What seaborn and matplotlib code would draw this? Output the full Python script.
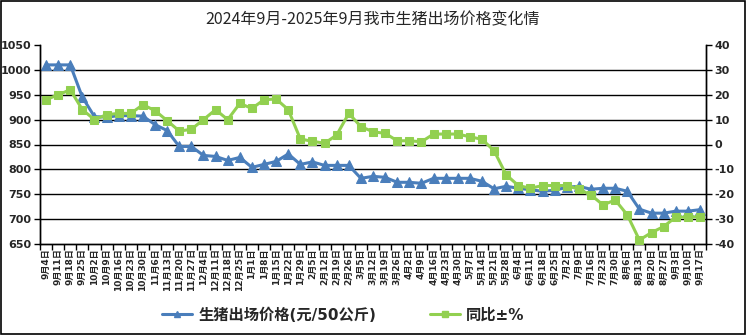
import matplotlib
matplotlib.use("Agg")
import matplotlib.pyplot as plt
from matplotlib.patches import Rectangle
from matplotlib.lines import Line2D
import seaborn as sns
import pandas as pd
import numpy as np

# weekly dates
dates = ["9月4日", "9月11日", "9月18日", "9月25日", "10月2日", "10月9日", "10月16日", "10月23日",
         "10月30日", "11月6日", "11月13日", "11月20日", "11月27日", "12月4日", "12月11日",
         "12月18日", "12月25日", "1月1日", "1月8日", "1月15日", "1月22日", "1月29日", "2月5日",
         "2月12日", "2月19日", "2月26日", "3月5日", "3月12日", "3月19日", "3月26日", "4月2日",
         "4月9日", "4月16日", "4月23日", "4月30日", "5月7日", "5月14日", "5月21日", "5月28日",
         "6月4日", "6月11日", "6月18日", "6月25日", "7月2日", "7月9日", "7月16日", "7月23日",
         "7月30日", "8月6日", "8月13日", "8月20日", "8月27日", "9月3日", "9月10日", "9月17日"]

# hog price, yuan per 50 kg
price = [1010, 1010, 1010, 945, 906, 905, 908, 908, 907, 890, 878, 846, 846, 828, 826,
         818, 824, 804, 810, 816, 831, 810, 815, 808, 808, 808, 782, 786, 784, 774, 774,
         772, 782, 782, 782, 782, 776, 761, 766, 762, 759, 756, 758, 764, 766, 760, 762,
         762, 756, 720, 712, 712, 716, 716, 719]

# year-on-year change, %
yoy = [18, 20, 22, 14, 10, 12, 12.5, 12.5, 16, 13.6, 9.6, 5.4, 6.1, 10, 14, 10, 16.5,
       14.5, 18, 18.3, 14, 2.2, 1.3, 0.5, 3.8, 12.5, 7.2, 5.1, 4.5, 1.5, 1.5, 1.1, 4.2,
       4.2, 4.2, 3.1, 2.1, -2.5, -12.2, -16.5, -17.6, -16.5, -16.5, -16.5, -18, -20.3,
       -24.3, -22.3, -28.3, -38.4, -35.4, -33, -29.2, -29.2, -29]

price_label = "生猪出场价格(元/50公斤)"
yoy_label = "同比±%"
title = "2024年9月-2025年9月我市生猪出场价格变化情"

blue = "#4A7EBB"
green = "#92D050"

sns.set_theme(style="white")
plt.rcParams["font.family"] = ["DejaVu Sans", "Noto Sans CJK SC"]
plt.rcParams["axes.unicode_minus"] = False

df = pd.DataFrame({"idx": np.arange(len(dates)), "price": price, "yoy": yoy})

fig = plt.figure(figsize=(7.46, 3.35), dpi=100)
ax = fig.add_axes([40 / 746, 1 - 244 / 335, 666 / 746, 199 / 335])
ax2 = ax.twinx()

sns.lineplot(data=df, x="idx", y="price", ax=ax, color=blue, marker="^",
             markersize=7, markeredgecolor=blue, linewidth=2.2, zorder=3)
sns.lineplot(data=df, x="idx", y="yoy", ax=ax2, color=green, marker="s",
             markersize=6, markeredgecolor=green, linewidth=2.2, zorder=3)

n = len(dates)
ax.set_xlim(-0.5, n - 0.5)
ax.set_ylim(650, 1050)
ax2.set_ylim(-40, 40)
ax.set_yticks(np.arange(650, 1051, 50))
ax2.set_yticks(np.arange(-40, 41, 10))

# horizontal gridlines
for v in range(700, 1001, 50):
    ax.axhline(v, color="black", linewidth=1.0, zorder=1)

ax.set_xticks(np.arange(n))
ax.set_xticklabels(dates, rotation=90, fontsize=6.5, fontweight="bold",
                   family=["DejaVu Sans", "Noto Sans CJK SC"])
ax.set_xticks(np.arange(n + 1) - 0.5, minor=True)
ax.tick_params(axis="x", which="major", length=0, pad=3)
ax.tick_params(axis="x", which="minor", length=4, width=1, color="black", direction="out", bottom=True)
ax.tick_params(axis="y", length=4, width=1, color="black", direction="out", left=True,
               labelsize=8, pad=2)
ax2.tick_params(axis="y", length=4, width=1, color="black", direction="out", right=True,
                labelsize=8, pad=2)
for lab in ax.get_yticklabels() + ax2.get_yticklabels():
    lab.set_fontweight("bold")

ax.set_xlabel("")
ax.set_ylabel("")
ax2.set_ylabel("")
for a in (ax, ax2):
    a.spines["top"].set_visible(False)
    for s in ("left", "right", "bottom"):
        a.spines[s].set_color("black")
        a.spines[s].set_linewidth(1.0)

fig.text(0.5, 1 - 20 / 335, title, ha="center", va="center", fontsize=11.5,
         family=["Noto Sans CJK SC", "DejaVu Sans"])

handles = [
    Line2D([], [], color=blue, marker="^", markersize=5, linewidth=2.2),
    Line2D([], [], color=green, marker="s", markersize=4.5, linewidth=2.2),
]
fig.legend(handles, [price_label, yoy_label], loc="center", bbox_to_anchor=(0.46, 1 - 315 / 335),
           ncol=2, frameon=False, handlelength=2.0, columnspacing=3.5, handletextpad=0.4,
           prop={"family": ["DejaVu Sans", "Noto Sans CJK SC"], "size": 11, "weight": "bold"})

fig.patches.append(Rectangle((0.001, 0.002), 0.997, 0.995, transform=fig.transFigure,
                             fill=False, edgecolor="black", linewidth=1.2))

fig.savefig("out.png", dpi=100)
